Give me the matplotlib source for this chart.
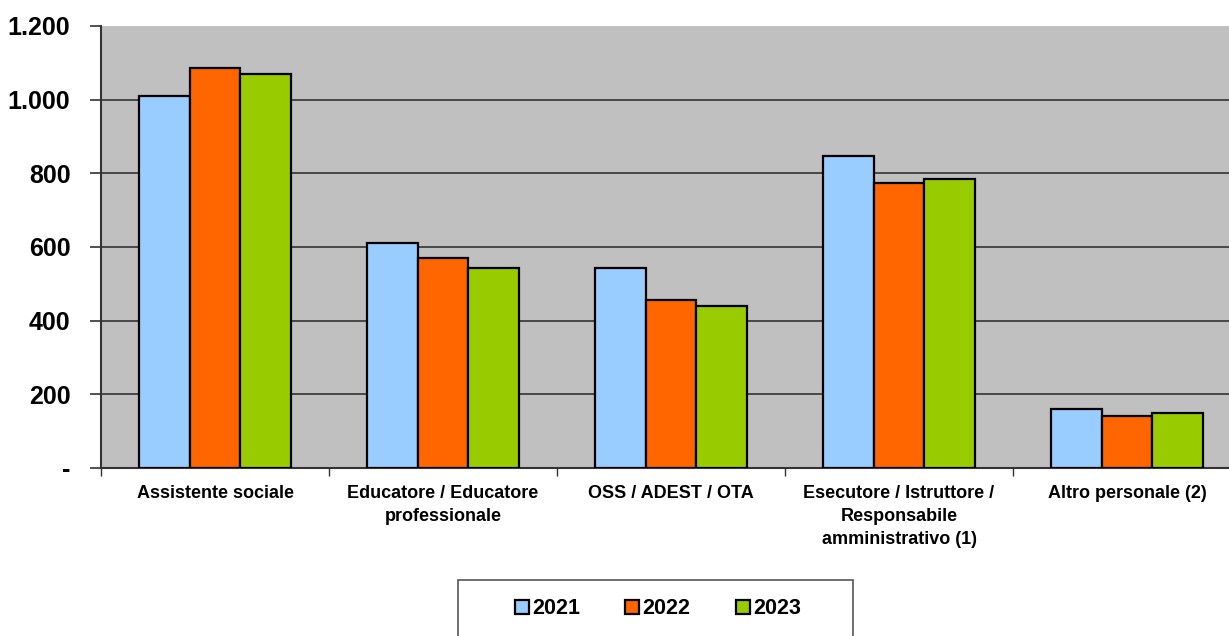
import matplotlib
matplotlib.use("Agg")
import matplotlib.pyplot as plt
import numpy as np
from matplotlib.patches import Rectangle

plt.rcParams['font.family'] = ['Liberation Sans', 'DejaVu Sans']
plt.rcParams['font.weight'] = 'bold'

categories = ["Assistente sociale",
              "Educatore / Educatore\nprofessionale",
              "OSS / ADEST / OTA",
              "Esecutore / Istruttore /\nResponsabile\namministrativo (1)",
              "Altro personale (2)"]
years = ["2021", "2022", "2023"]
v2021 = [1011, 611, 542, 847, 160]
v2022 = [1086, 570, 457, 774, 142]
v2023 = [1069, 542, 439, 785, 149]
yticks = [0, 200, 400, 600, 800, 1000, 1200]
ytick_labels = ["-", "200", "400", "600", "800", "1.000", "1.200"]
colors = ["#99CCFF", "#FF6600", "#99CC00"]

fig = plt.figure(figsize=(12.29, 6.36), dpi=100)
ax = fig.add_axes([0.0822, 0.2642, 0.9276, 0.6950])
ax.set_facecolor("#C0C0C0")

x = np.arange(len(categories))
w = 0.222
for i, (vals, lab) in enumerate(zip([v2021, v2022, v2023], years)):
	ax.bar(x + (i - 1) * w, vals, w, color=colors[i], edgecolor="black",
		linewidth=1.6, label=lab, zorder=3)

ax.set_xlim(-0.5, len(categories) - 0.5)
ax.set_ylim(0, 1200)
ax.set_yticks(yticks)
ax.set_yticklabels(ytick_labels, fontsize=18, fontweight="bold")
# grid lines, but none on the top edge
for y in yticks[1:-1]:
	ax.axhline(y, color="#333333", linewidth=1.2, zorder=0)
ax.tick_params(axis="y", length=8, width=1.2, color="#333333", pad=14)

ax.set_xticks(x)
ax.set_xticklabels(categories, fontsize=13, fontweight="bold", linespacing=1.48)
ax.tick_params(axis="x", which="major", length=0, pad=12)
ax.set_xticks(np.arange(len(categories)) - 0.5, minor=True)
ax.tick_params(axis="x", which="minor", length=6, width=1.0, color="#333333")

for s in ["top", "right"]:
	ax.spines[s].set_visible(False)
ax.spines["left"].set_color("#333333")
ax.spines["left"].set_linewidth(1.5)
ax.spines["bottom"].set_color("#333333")
ax.spines["bottom"].set_linewidth(1.5)

# legend box, cut at the bottom like the source
fig.patches.append(Rectangle((458 / 1229, -0.05), (853 - 458) / 1229, 0.05 + (636 - 580) / 636,
	transform=fig.transFigure, facecolor="white", edgecolor="#555555",
	linewidth=1.2, clip_on=False))
fig.legend(loc="center", bbox_to_anchor=(658 / 1229, 1 - 609 / 636), ncol=3,
	frameon=False, handlelength=0.65, handleheight=0.65,
	handletextpad=0.15, columnspacing=2.1, prop={"weight": "bold", "size": 15.5})

fig.savefig("out.png", dpi=100)
